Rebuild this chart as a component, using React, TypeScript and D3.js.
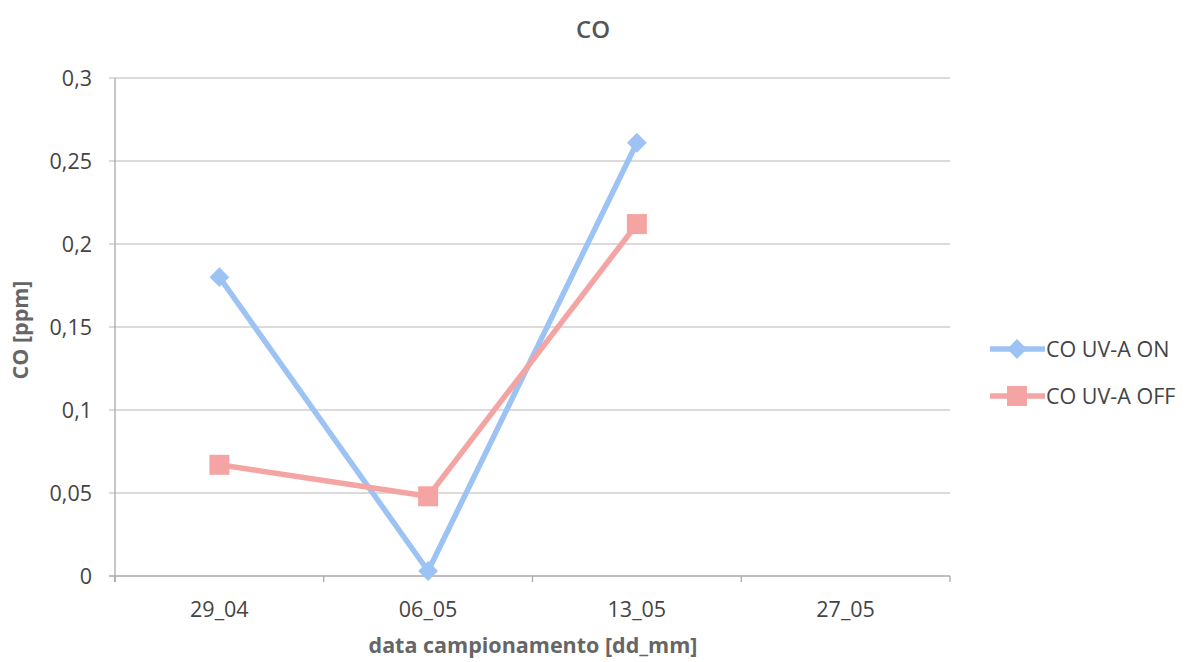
import React from "react";
import * as d3 from "d3";

const categories = ["29_04", "06_05", "13_05", "27_05"];
const onValues: (number | null)[] = [0.18, 0.003, 0.261, null];
const offValues: (number | null)[] = [0.067, 0.048, 0.212, null];
const yTicks = [0, 0.05, 0.1, 0.15, 0.2, 0.25, 0.3];
const seriesNames = ["CO UV-A ON", "CO UV-A OFF"];

const W = 1186, H = 662;
const m = { left: 115, right: 950, top: 78, bottom: 576 };
const FONT = "'Open Sans', 'Liberation Sans', sans-serif";
const BLUE = "#9cc3f4";
const PINK = "#f5a4a4";
const FS = 21.5;

export default function App() {
  const x = d3.scaleBand<string>().domain(categories).range([m.left, m.right]);
  const y = d3.scaleLinear().domain([0, 0.3]).range([m.bottom, m.top]);
  const fmt = (v: number) => String(+v.toFixed(2)).replace(".", ",");
  const line = d3
    .line<number | null>()
    .defined((d) => d !== null)
    .x((_, i) => x(categories[i])! + x.bandwidth() / 2)
    .y((d) => y(d as number));
  const cx = (i: number) => x(categories[i])! + x.bandwidth() / 2;
  const boundaries = [...categories.map((c) => x(c)!), m.right];
  const D = 7; // diamond half-side
  const S = 10; // square half-side

  return (
    <svg width={W} height={H} style={{ position: "absolute", left: 0, top: 0, background: "#fff" }} fontFamily={FONT}>
      <rect width={W} height={H} fill="#fff" />
      <text x={593} y={38} textAnchor="middle" fontSize={24} fontWeight={600} fill="#555">CO</text>
      {yTicks.map((t) => (
        <g key={t}>
          <line x1={m.left - 6} x2={m.right} y1={y(t)} y2={y(t)} stroke={t === 0 ? "#aaa" : "#cfcfcf"} strokeWidth={1.3} />
          <text x={92} y={y(t) + 8} textAnchor="end" fontSize={FS} fill="#444">{fmt(t)}</text>
        </g>
      ))}
      <line x1={m.left} x2={m.left} y1={m.top} y2={m.bottom + 6} stroke="#aaa" strokeWidth={1.3} />
      {boundaries.map((b, i) => (
        <line key={i} x1={b} x2={b} y1={m.bottom} y2={m.bottom + 6} stroke="#aaa" strokeWidth={1.3} />
      ))}
      {categories.map((c) => (
        <text key={c} x={x(c)! + x.bandwidth() / 2} y={617} textAnchor="middle" fontSize={FS} fill="#444">{c}</text>
      ))}
      <text x={533} y={653} textAnchor="middle" fontSize={FS} fontWeight="bold" fill="#666">data campionamento [dd_mm]</text>
      <text transform={`translate(28,330) rotate(-90)`} textAnchor="middle" fontSize={FS} fontWeight="bold" fill="#666">CO [ppm]</text>

      <path d={line(onValues) || ""} fill="none" stroke={BLUE} strokeWidth={5.5} strokeLinejoin="round" />
      <path d={line(offValues) || ""} fill="none" stroke={PINK} strokeWidth={5.5} strokeLinejoin="round" />
      {onValues.map((v, i) =>
        v === null ? null : (
          <rect key={i} x={cx(i) - D} y={y(v) - D} width={2 * D} height={2 * D} fill={BLUE} transform={`rotate(45 ${cx(i)} ${y(v)})`} />
        )
      )}
      {offValues.map((v, i) =>
        v === null ? null : (
          <rect key={i} x={cx(i) - S} y={y(v) - S} width={2 * S} height={2 * S} fill={PINK} />
        )
      )}

      <g>
        <line x1={990} x2={1045} y1={349} y2={349} stroke={BLUE} strokeWidth={5.5} />
        <rect x={1017 - D} y={349 - D} width={2 * D} height={2 * D} fill={BLUE} transform="rotate(45 1017 349)" />
        <text x={1046} y={357} fontSize={FS} fill="#444">{seriesNames[0]}</text>
        <line x1={990} x2={1045} y1={396} y2={396} stroke={PINK} strokeWidth={5.5} />
        <rect x={1017 - S} y={396 - S} width={2 * S} height={2 * S} fill={PINK} />
        <text x={1046} y={404} fontSize={FS} fill="#444">{seriesNames[1]}</text>
      </g>
    </svg>
  );
}
